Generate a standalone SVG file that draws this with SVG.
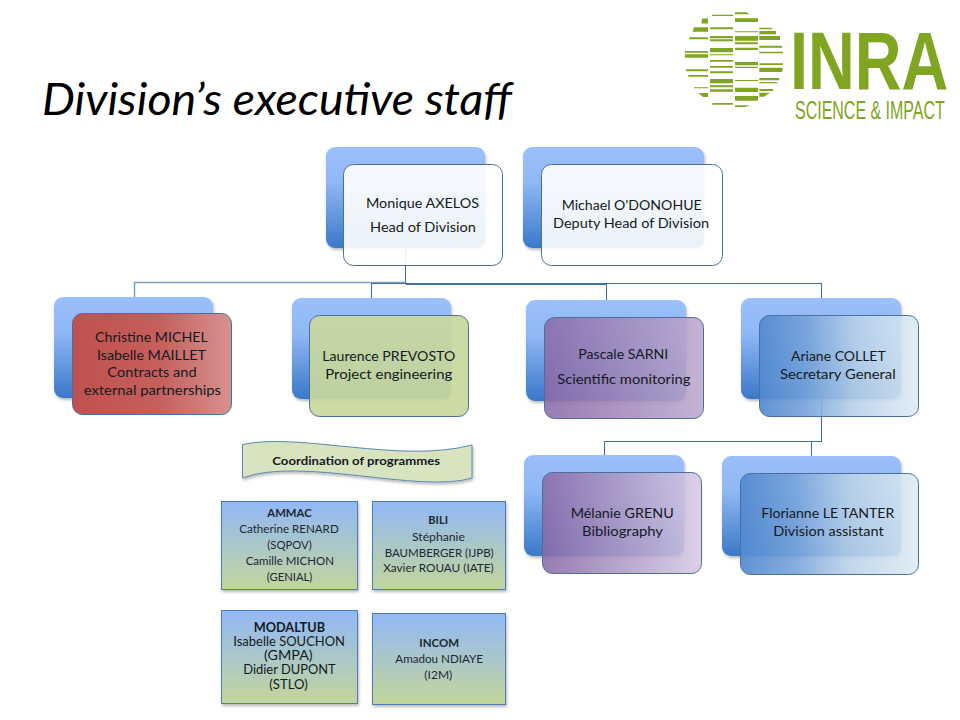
<svg xmlns="http://www.w3.org/2000/svg" width="960" height="720" viewBox="0 0 960 720">
<style>
text{font-family:"Lato","Open Sans","Liberation Sans",sans-serif;fill:#141a22;font-size:14px}
.s{font-size:11.5px;fill:#1c2733}
.b{font-weight:700}
.back{fill:url(#gBack);filter:url(#sh)}
.front{stroke:#4a6f9c;stroke-width:1}
.prog{fill:url(#gProg);stroke:#4a7ebb;stroke-width:1;filter:url(#sh)}
.conn{fill:none;stroke:#41719c;stroke-width:1.1}
.lg{fill:#7fa522}
</style>
<defs>
<filter id="sh" x="-10%" y="-10%" width="125%" height="125%"><feDropShadow dx="1" dy="2" stdDeviation="1.6" flood-color="#000" flood-opacity=".28"/></filter>
<linearGradient id="gBack" x1="0" y1="0" x2="0" y2="1"><stop offset="0" stop-color="#9bc0fb"/><stop offset=".35" stop-color="#8fb8f5"/><stop offset="1" stop-color="#3a78c8"/></linearGradient>
<linearGradient id="gProg" x1="0" y1="0" x2="0" y2="1"><stop offset="0" stop-color="#92b8f6"/><stop offset="1" stop-color="#c3d69b"/></linearGradient>
<linearGradient id="gRed"><stop offset="0" stop-color="#c0504d"/><stop offset=".55" stop-color="#c5605d"/><stop offset="1" stop-color="#d69290"/></linearGradient>
<linearGradient id="gPur1"><stop offset="0" stop-color="#8a6aa8" stop-opacity=".88"/><stop offset="1" stop-color="#bda9cf" stop-opacity=".88"/></linearGradient>
<linearGradient id="gPur2"><stop offset="0" stop-color="#8a6aa8" stop-opacity=".88"/><stop offset="1" stop-color="#d6cae4" stop-opacity=".88"/></linearGradient>
<linearGradient id="gBlue"><stop offset="0" stop-color="#5289d0" stop-opacity=".92"/><stop offset=".3" stop-color="#76a3da" stop-opacity=".9"/><stop offset=".6" stop-color="#b8d0e8" stop-opacity=".88"/><stop offset="1" stop-color="#deebf3" stop-opacity=".88"/></linearGradient>
</defs>
<rect width="960" height="720" fill="#fff"/>
<text id="title" x="42" y="115" textLength="470" lengthAdjust="spacingAndGlyphs" style="font-size:44px;font-style:italic;fill:#000">Division’s executive staff</text>

<g id="logo">
<path class="lg" d="M702,18.5L708,18.5L708,23.5L701.5,23.5ZM694,27.300L708,27.300L708,31.700L692.500,31.700ZM689.300,37.300L708,37.300L708,39.300L689,39.300ZM685,51L708,51L708,52.700L685,52.700ZM685,54.300L708,54.300L708,57.700L685,57.700ZM686,69.300L708,69.300L708,71.300L686,71.300ZM688.300,75L708,75L708,76.700L688.300,76.700ZM694,87.300L708,87.300L708,88.300L694,88.300ZM698.300,93L708,93L708,97L703,97Z"/>
<path class="lg" d="M712,14.700L733,14.700L733,16L712,16ZM710,27.300L733,27.300L733,29.300L710,29.300ZM710,36L733,36L733,38.300L710,38.300ZM710,39.300L733,39.300L733,41.300L710,41.300ZM710,48L733,48L733,52.300L710,52.300ZM710,54.300L733,54.300L733,55.300L710,55.300ZM710,60L733,60L733,61.700L710,61.700ZM710,66L733,66L733,67.700L710,67.700ZM710,71.300L733,71.300L733,73.300L710,73.300ZM710,79L733,79L733,83.300L710,83.300ZM710,85.300L733,85.300L733,87.300L710,87.300ZM710,89.300L733,89.300L733,91.700L710,91.700ZM712.300,103L733,103L733,104.700L712.300,104.700Z"/>
<path class="lg" d="M735,12.300L746,12.300L750,14.300L735,14.300ZM735,18.300L758,18.300L758,22L735,22ZM735,31.300L758,31.300L758,32.300L735,32.300ZM735,36L758,36L758,40.700L735,40.700ZM735,42.300L758,42.300L758,44.300L735,44.300ZM735,47.700L758,47.700L758,50L735,50ZM735,62L758,62L758,65.300L735,65.300ZM735,66.700L758,66.700L758,68L735,68ZM735,80L758,80L758,81L735,81ZM735,87.700L758,87.700L758,92L735,92ZM735,96L758,96L758,100.700L735,100.700ZM735,105.300L750,105.300L745,107L735,107Z"/>
<path class="lg" d="M759.300,27.700L772,27.700L772,29.300L759.300,29.300ZM759.300,31L776,31L776,34.300L759.300,34.300ZM759.300,36L780,36L780,40L759.300,40ZM759.300,45.700L782,45.700L782,47.700L759.300,47.700ZM759.300,51.700L783,51.700L783,53.300L759.300,53.300ZM759.300,63.300L783,63.300L783,65L759.300,65ZM759.300,67.700L783,67.700L782,72L759.300,72ZM759.300,78L779.300,78L779,80.300L759.300,80.300ZM759.300,82L777.300,82L777,83.300L759.300,83.300ZM759.300,89L773.300,89L773,91L759.300,91ZM759.300,92.700L770,92.700L764,96.700L759.300,96.700Z"/>
<text transform="translate(790,89) scale(.79,1)" style="font-family:'Liberation Sans',Arial,sans-serif;font-weight:700;font-size:82px;fill:#7fa522">INRA</text>
<text transform="translate(795,119) scale(.64,1)" style="font-family:'Liberation Sans',Arial,sans-serif;font-size:25px;fill:#7fa522">SCIENCE &amp; IMPACT</text>
</g>

<g id="connectors">
<path class="conn" style="stroke:#7f9fc0;stroke-width:1.5" d="M405.500,282.500H134.500V297"/>
<path class="conn" d="M405.500,248V284"/>
<path class="conn" d="M405.500,283.500H371.500V298"/>
<path class="conn" d="M405.500,284.500H606.500V300"/>
<path class="conn" d="M405.500,283.500H821.500V298"/>
<path class="conn" d="M821.500,400V441.500H604.500V455"/>
<path class="conn" d="M811.500,441.500V456"/>
</g>

<g id="node-axelos">
<rect class="back" x="326" y="147" width="159" height="101" rx="9"/>
<rect class="front" x="343.500" y="164.500" width="159" height="101" rx="10" fill="#fff" fill-opacity=".9"/>
<text x="366" y="207.500" textLength="113" lengthAdjust="spacingAndGlyphs">Monique  AXELOS</text>
<text x="370" y="232.300" textLength="106" lengthAdjust="spacingAndGlyphs">Head of Division</text>
</g>
<g id="node-odonohue">
<rect class="back" x="523" y="147" width="181" height="101" rx="9"/>
<rect class="front" x="541.500" y="164.500" width="181" height="101" rx="10" fill="#fff" fill-opacity=".9"/>
<text x="561.700" y="210" textLength="140" lengthAdjust="spacingAndGlyphs">Michael O'DONOHUE</text>
<text x="553" y="227.800" textLength="156" lengthAdjust="spacingAndGlyphs">Deputy Head of Division</text>
</g>
<g id="node-michel">
<rect class="back" x="54" y="297" width="159" height="101" rx="9"/>
<rect class="front" x="72.500" y="313.500" width="159" height="101" rx="10" fill="url(#gRed)"/>
<text x="95" y="342" textLength="112.700" lengthAdjust="spacingAndGlyphs">Christine MICHEL</text>
<text x="97" y="360" textLength="109" lengthAdjust="spacingAndGlyphs">Isabelle MAILLET</text>
<text x="107.300" y="377.300" textLength="89.400" lengthAdjust="spacingAndGlyphs">Contracts and</text>
<text x="83.700" y="395" textLength="137.300" lengthAdjust="spacingAndGlyphs">external partnerships</text>
</g>
<g id="node-prevosto">
<rect class="back" x="292" y="298" width="159" height="101" rx="9"/>
<rect class="front" x="309.500" y="315.500" width="159" height="101" rx="10" fill="#c8d89c" fill-opacity=".92"/>
<text x="322.300" y="361.300" textLength="133" lengthAdjust="spacingAndGlyphs">Laurence PREVOSTO</text>
<text x="325.300" y="379" textLength="127" lengthAdjust="spacingAndGlyphs">Project engineering</text>
</g>
<g id="node-sarni">
<rect class="back" x="526" y="300" width="160" height="101" rx="9"/>
<rect class="front" x="544.500" y="317.500" width="159" height="101" rx="10" fill="url(#gPur1)"/>
<text x="578.300" y="359" textLength="90" lengthAdjust="spacingAndGlyphs">Pascale SARNI</text>
<text x="557.300" y="384.300" textLength="133" lengthAdjust="spacingAndGlyphs">Scientific monitoring</text>
</g>
<g id="node-collet">
<rect class="back" x="741" y="298" width="160" height="101" rx="9"/>
<rect class="front" x="759.500" y="315.500" width="159" height="101" rx="10" fill="url(#gBlue)"/>
<text x="791" y="361.300" textLength="94.700" lengthAdjust="spacingAndGlyphs">Ariane COLLET</text>
<text x="780" y="379" textLength="115.700" lengthAdjust="spacingAndGlyphs">Secretary General</text>
</g>
<g id="node-grenu">
<rect class="back" x="524" y="455" width="160" height="101" rx="9"/>
<rect class="front" x="542.500" y="472.500" width="159" height="101" rx="10" fill="url(#gPur2)"/>
<text x="570.700" y="518.300" textLength="103" lengthAdjust="spacingAndGlyphs">Mélanie GRENU</text>
<text x="582" y="536" textLength="81" lengthAdjust="spacingAndGlyphs">Bibliography</text>
</g>
<g id="node-letanter">
<rect class="back" x="722" y="456" width="179" height="100" rx="9"/>
<rect class="front" x="740.500" y="473.500" width="178" height="101" rx="10" fill="url(#gBlue)"/>
<text x="761.300" y="518.300" textLength="133" lengthAdjust="spacingAndGlyphs">Florianne LE TANTER</text>
<text x="773.300" y="536" textLength="110.400" lengthAdjust="spacingAndGlyphs">Division assistant</text>
</g>

<g id="node-coordination">
<path d="M242.500,444.500C300,432 400,464 472,445V478C420,494 300,456 242.500,478Z" fill="#d8e4bf" stroke="#5b88b5" filter="url(#sh)"/>
<text class="b" x="272.300" y="465" textLength="167.700" lengthAdjust="spacingAndGlyphs" style="font-size:12px">Coordination of programmes</text>
</g>
<g id="node-ammac">
<rect class="prog" x="221.500" y="501.500" width="136" height="88"/>
<text class="s b" x="267.300" y="516.700" textLength="44.400" lengthAdjust="spacingAndGlyphs">AMMAC</text>
<text class="s" x="239.300" y="532.700" textLength="99.400" lengthAdjust="spacingAndGlyphs">Catherine RENARD</text>
<text class="s" x="267.300" y="549" textLength="44.400" lengthAdjust="spacingAndGlyphs">(SQPOV)</text>
<text class="s" x="245.700" y="565" textLength="88.300" lengthAdjust="spacingAndGlyphs">Camille  MICHON</text>
<text class="s" x="266.700" y="580.700" textLength="45.600" lengthAdjust="spacingAndGlyphs">(GENIAL)</text>
</g>
<g id="node-bili">
<rect class="prog" x="372.500" y="501.500" width="133" height="88"/>
<text class="s b" x="428.300" y="524.300" textLength="19.700" lengthAdjust="spacingAndGlyphs">BILI</text>
<text class="s" x="412" y="541" textLength="53" lengthAdjust="spacingAndGlyphs">Stéphanie</text>
<text class="s" x="384.700" y="557" textLength="109" lengthAdjust="spacingAndGlyphs">BAUMBERGER  (IJPB)</text>
<text class="s" x="383.300" y="572.300" textLength="110.400" lengthAdjust="spacingAndGlyphs">Xavier ROUAU (IATE)</text>
</g>
<g id="node-modaltub">
<rect class="prog" x="221.500" y="610.500" width="136" height="93"/>
<text class="b" x="253.700" y="631.700" textLength="71.300" lengthAdjust="spacingAndGlyphs" style="font-size:13px">MODALTUB</text>
<text x="233.300" y="646" textLength="111.700" lengthAdjust="spacingAndGlyphs" style="font-size:13px">Isabelle SOUCHON</text>
<text x="264" y="660" textLength="48.700" lengthAdjust="spacingAndGlyphs" style="font-size:13px">(GMPA)</text>
<text x="243.300" y="674" textLength="92.400" lengthAdjust="spacingAndGlyphs" style="font-size:13px">Didier DUPONT</text>
<text x="269.300" y="688.700" textLength="38.400" lengthAdjust="spacingAndGlyphs" style="font-size:13px">(STLO)</text>
</g>
<g id="node-incom">
<rect class="prog" x="372.500" y="613.500" width="133" height="91"/>
<text class="s b" x="419.300" y="646.700" textLength="39.700" lengthAdjust="spacingAndGlyphs">INCOM</text>
<text class="s" x="395.300" y="663" textLength="87.700" lengthAdjust="spacingAndGlyphs">Amadou  NDIAYE</text>
<text class="s" x="424.300" y="679.300" textLength="28" lengthAdjust="spacingAndGlyphs">(I2M)</text>
</g>
</svg>
